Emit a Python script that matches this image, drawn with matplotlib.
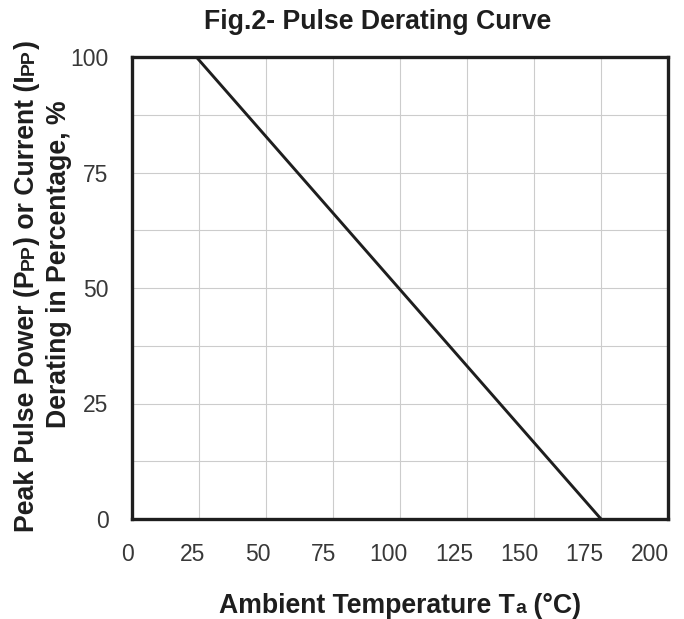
import matplotlib
matplotlib.use("Agg")
import matplotlib.pyplot as plt
from matplotlib.ticker import MultipleLocator

#Chart data.
temps = [24, 175]
derating = [100, 0]
x_ticks = [0, 25, 50, 75, 100, 125, 150, 175, 200]
y_ticks = [0, 25, 50, 75, 100]

title_text = "Fig.2- Pulse Derating Curve"
#Pieces of the labels: (text, small?) so the "PP" and "a" can be drawn smaller.
ylabel_line1 = [("Peak Pulse Power (P", False), ("PP", True), (") or Current (I", False), ("PP", True), (")", False)]
ylabel_line2 = [("Derating in Percentage, %", False)]
xlabel_parts = [("Ambient Temperature T", False), ("a", True), (" (\u00b0C)", False)]

plt.rcParams['font.family'] = ['Liberation Sans', 'DejaVu Sans']
LABEL_SIZE = 19.2
SMALL_SIZE = 14
TICK_SIZE = 16.5
DARK = '#1e1e1e'
TICK_COLOR = '#383838'

fig = plt.figure(figsize=(6.84, 6.19), dpi=100)
ax = fig.add_axes([132/684, 1-519/619, 536/684, 462/619])

ax.plot(temps, derating, color=DARK, linewidth=2.1, solid_capstyle='butt')
ax.set_xlim(0, 200)
ax.set_ylim(0, 100)
ax.set_xticks(x_ticks)
ax.set_yticks(y_ticks)
ax.yaxis.set_minor_locator(MultipleLocator(12.5))
ax.grid(which='both', color='#cccccc', linewidth=0.8)
ax.set_axisbelow(True)
ax.tick_params(which='both', length=0)
ax.tick_params(axis='y', pad=17, labelsize=TICK_SIZE, labelcolor=TICK_COLOR)
ax.tick_params(axis='x', labelbottom=False)
for s in ax.spines.values():
    s.set_linewidth(2.4)
    s.set_color(DARK)

#In the original the x tick labels sit on a slightly squeezed scale,
#drifting left of the grid lines, so they get their own hidden axes.
lab = fig.add_axes([127/684, 1-519/619, 523/684, 462/619])
lab.set_xlim(0, 200)
lab.set_xticks(x_ticks)
lab.set_yticks([])
lab.patch.set_visible(False)
lab.tick_params(axis='x', length=0, pad=17, labelsize=TICK_SIZE, labelcolor=TICK_COLOR)
for s in lab.spines.values():
    s.set_visible(False)

renderer = fig.canvas.get_renderer()

def piece_width(text, size):
    t = fig.text(0, 0, text, fontsize=size, fontweight='bold')
    w = t.get_window_extent(renderer).width
    t.remove()
    return w

def draw_parts(parts, cx, cy, vertical):
    #Draw a run of text pieces of mixed size, centred on (cx, cy) in pixels
    #(measured from the top left of the image), sharing one baseline.
    widths = [piece_width(p, SMALL_SIZE if small else LABEL_SIZE) for p, small in parts]
    total = sum(widths)
    pos = -total/2
    for (p, small), w in zip(parts, widths):
        size = SMALL_SIZE if small else LABEL_SIZE
        if vertical:
            x, y, rot = cx, (619 - cy) + pos, 90
        else:
            x, y, rot = cx + pos, 619 - cy, 0
        fig.text(x/684, y/619, p, fontsize=size, fontweight='bold', color=DARK,
                 rotation=rot, rotation_mode='anchor', ha='left', va='baseline')
        pos += w

draw_parts([(title_text, False)], 378, 29, False)
draw_parts(xlabel_parts, 400, 613, False)
draw_parts(ylabel_line1, 34, 286, True)
draw_parts(ylabel_line2, 66, 264, True)

fig.savefig("out.png", dpi=100)
